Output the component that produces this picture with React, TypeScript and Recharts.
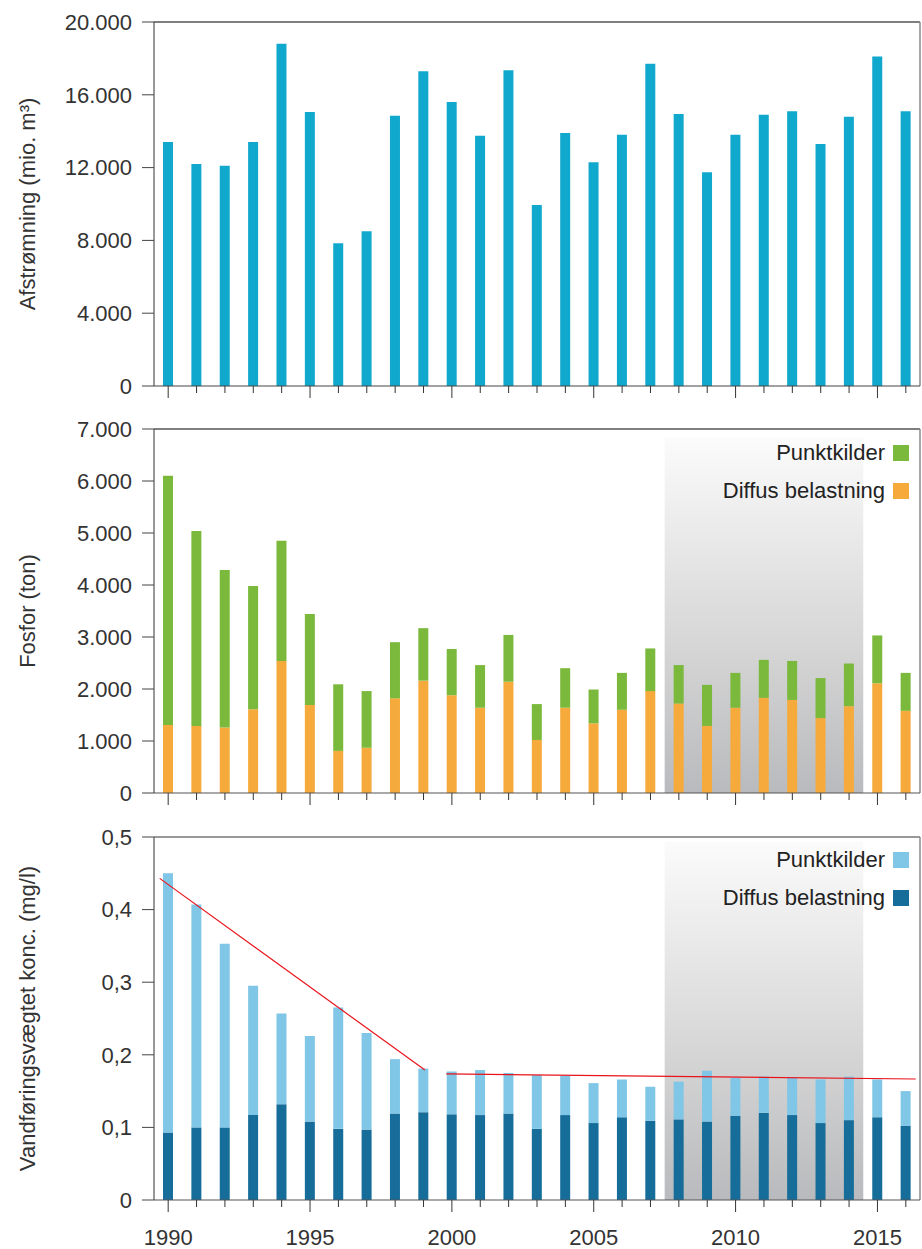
import React from 'react';
import { BarChart, Bar, XAxis, YAxis, ReferenceArea, ReferenceLine, Legend } from 'recharts';

const years = [1990, 1991, 1992, 1993, 1994, 1995, 1996, 1997, 1998, 1999, 2000, 2001, 2002, 2003, 2004, 2005, 2006, 2007, 2008, 2009, 2010, 2011, 2012, 2013, 2014, 2015, 2016];

const afstromning = [13400, 12200, 12100, 13400, 18800, 15050, 7850, 8500, 14850, 17300, 15600, 13750, 17350, 9950, 13900, 12300, 13800, 17700, 14950, 11750, 13800, 14900, 15100, 13300, 14800, 18100, 15100];

const fosforDiffus = [1310, 1290, 1260, 1610, 2540, 1690, 810, 870, 1820, 2160, 1880, 1640, 2140, 1020, 1640, 1340, 1600, 1960, 1720, 1290, 1640, 1830, 1790, 1440, 1670, 2110, 1580];
const fosforPunkt = [4790, 3750, 3030, 2370, 2310, 1750, 1280, 1090, 1080, 1010, 890, 820, 900, 690, 760, 650, 710, 820, 740, 790, 670, 730, 750, 770, 820, 920, 730];

const koncDiffus = [0.093, 0.1, 0.1, 0.117, 0.132, 0.108, 0.098, 0.097, 0.119, 0.121, 0.118, 0.117, 0.119, 0.098, 0.117, 0.106, 0.114, 0.109, 0.111, 0.108, 0.116, 0.12, 0.117, 0.106, 0.11, 0.114, 0.102];
const koncPunkt = [0.357, 0.307, 0.253, 0.178, 0.125, 0.118, 0.167, 0.133, 0.075, 0.06, 0.059, 0.062, 0.056, 0.074, 0.054, 0.055, 0.052, 0.047, 0.052, 0.07, 0.052, 0.05, 0.051, 0.06, 0.06, 0.052, 0.048];

const afstromningTicks = [0, 4000, 8000, 12000, 16000, 20000];
const fosforTicks = [0, 1000, 2000, 3000, 4000, 5000, 6000, 7000];
const koncTicks = [0, 0.1, 0.2, 0.3, 0.4, 0.5];

const shadeYears = [2007.5, 2014.5];
const trendA = [{ year: 1989.7, value: 0.443 }, { year: 1999.05, value: 0.179 }];
const trendB = [{ year: 1999.8, value: 0.1736 }, { year: 2016.35, value: 0.1667 }];

const legendLabels = { punkt: 'Punktkilder', diffus: 'Diffus belastning' };

const topData = years.map((y, i) => ({ year: y, afstromning: afstromning[i] }));
const fosforData = years.map((y, i) => ({ year: y, diffus: fosforDiffus[i], punkt: fosforPunkt[i] }));
const koncData = years.map((y, i) => ({ year: y, diffus: koncDiffus[i], punkt: koncPunkt[i] }));

const FONT = '"Liberation Sans", Arial, sans-serif';
const TXT = '#333';
const X_DOMAIN: [number, number] = [1989.5, 2016.5];

const fmtThousands = (v: number) => String(v).replace(/\B(?=(\d{3})+(?!\d))/g, '.');
const fmtDecimal = (v: number) => (v === 0 ? '0' : v.toFixed(1).replace('.', ','));

const makeXTick = (showLabel: boolean) => (props: any) => {
  const { x, y, payload } = props;
  const major = payload.value % 5 === 0;
  return (
    <g>
      <line x1={x} x2={x} y1={y} y2={y + (major ? 12 : 7)} stroke="#333" strokeWidth={1} />
      {showLabel && major && (
        <text x={x} y={y + 45} textAnchor="middle" fontSize={22} fill={TXT} fontFamily={FONT}>
          {payload.value}
        </text>
      )}
    </g>
  );
};

const makeYTitle = (content: React.ReactNode) => (props: any) => {
  const vb = props.viewBox || { y: 0, height: 0 };
  const cy = vb.y + vb.height / 2;
  const cx = 27;
  return (
    <text
      x={cx}
      y={cy}
      transform={`rotate(-90, ${cx}, ${cy})`}
      textAnchor="middle"
      dominantBaseline="central"
      fontSize={22}
      fill={TXT}
      fontFamily={FONT}
    >
      {content}
    </text>
  );
};

const makeLegend = (colors: { punkt: string; diffus: string }) => () => {
  const items = [
    { label: legendLabels.punkt, color: colors.punkt },
    { label: legendLabels.diffus, color: colors.diffus },
  ];
  return (
    <div style={{ fontFamily: FONT }}>
      {items.map((it) => (
        <div
          key={it.label}
          style={{ display: 'flex', alignItems: 'center', justifyContent: 'flex-end', height: 38 }}
        >
          <span style={{ fontSize: 22, color: '#222', marginRight: 8, lineHeight: '22px' }}>{it.label}</span>
          <span style={{ display: 'inline-block', width: 16, height: 16, background: it.color }} />
        </div>
      ))}
    </div>
  );
};

const ShadeDefs = ({ id }: { id: string }) => (
  <defs>
    <linearGradient id={id} x1="0" y1="0" x2="0" y2="1">
      <stop offset="0%" stopColor="#fbfbfb" />
      <stop offset="55%" stopColor="#d8d8d8" />
      <stop offset="100%" stopColor="#b9babd" />
    </linearGradient>
  </defs>
);

const yTickStyle = { fontSize: 22, fill: TXT, fontFamily: FONT };

export default function App() {
  return (
    <div style={{ position: 'absolute', left: 0, top: 0, width: 922, height: 1249, background: '#fff', fontFamily: FONT }}>
      {/* Panel 1 */}
      <div style={{ position: 'absolute', left: 0, top: 0 }}>
        <BarChart width={922} height={400} data={topData} margin={{ top: 22, right: 2, bottom: 0, left: 0 }}>
          <XAxis
            dataKey="year"
            type="number"
            domain={X_DOMAIN}
            ticks={years}
            interval={0}
            height={14}
            tickLine={false}
            tickSize={0}
            tickMargin={0}
            axisLine={{ stroke: '#444' }}
            tick={makeXTick(false)}
          />
          <YAxis
            width={154}
            domain={[0, 20000]}
            ticks={afstromningTicks}
            interval={0}
            tickSize={12}
            tickMargin={10}
            tickLine={{ stroke: '#444' }}
            axisLine={{ stroke: '#333' }}
            tick={yTickStyle}
            tickFormatter={fmtThousands}
            label={makeYTitle(<>Afstrømning (mio. m³)</>)}
          />
          <ReferenceLine y={20000} stroke="#555" strokeWidth={1.5} />
          <ReferenceLine x={2016.5} stroke="#888" strokeWidth={1.5} />
          <Bar dataKey="afstromning" fill="#10a8cc" barSize={10} isAnimationActive={false} />
        </BarChart>
      </div>

      {/* Panel 2 */}
      <div style={{ position: 'absolute', left: 0, top: 400 }}>
        <BarChart width={922} height={410} data={fosforData} margin={{ top: 29, right: 2, bottom: 0, left: 0 }}>
          <ShadeDefs id="shadeFosfor" />
          <XAxis
            dataKey="year"
            type="number"
            domain={X_DOMAIN}
            ticks={years}
            interval={0}
            height={17}
            tickLine={false}
            tickSize={0}
            tickMargin={0}
            axisLine={{ stroke: '#555' }}
            tick={makeXTick(false)}
          />
          <YAxis
            width={154}
            domain={[0, 7000]}
            ticks={fosforTicks}
            interval={0}
            tickSize={12}
            tickMargin={10}
            tickLine={{ stroke: '#444' }}
            axisLine={{ stroke: '#333' }}
            tick={yTickStyle}
            tickFormatter={fmtThousands}
            label={makeYTitle('Fosfor (ton)')}
          />
          <ReferenceArea
            x1={shadeYears[0]}
            x2={shadeYears[1]}
            y1={0}
            y2={6830}
            fill="url(#shadeFosfor)"
            fillOpacity={1}
            stroke="none"
          />
          <ReferenceLine y={7000} stroke="#555" strokeWidth={1.5} />
          <ReferenceLine x={2016.5} stroke="#888" strokeWidth={1.5} />
          <Bar dataKey="diffus" name={legendLabels.diffus} stackId="a" fill="#f5aa3b" barSize={10} isAnimationActive={false} />
          <Bar dataKey="punkt" name={legendLabels.punkt} stackId="a" fill="#7ab93b" barSize={10} isAnimationActive={false} />
          <Legend
            layout="horizontal"
            verticalAlign="middle"
            align="center"
            wrapperStyle={{ top: 34, right: 13, left: 'auto', width: 'auto' }}
            content={makeLegend({ punkt: '#7ab93b', diffus: '#f5aa3b' })}
          />
        </BarChart>
      </div>

      {/* Panel 3 */}
      <div style={{ position: 'absolute', left: 0, top: 810 }}>
        <BarChart width={922} height={439} data={koncData} margin={{ top: 27, right: 2, bottom: 0, left: 0 }}>
          <ShadeDefs id="shadeKonc" />
          <XAxis
            dataKey="year"
            type="number"
            domain={X_DOMAIN}
            ticks={years}
            interval={0}
            height={49}
            tickLine={false}
            tickSize={0}
            tickMargin={0}
            axisLine={{ stroke: '#555' }}
            tick={makeXTick(true)}
          />
          <YAxis
            width={154}
            domain={[0, 0.5]}
            ticks={koncTicks}
            interval={0}
            tickSize={12}
            tickMargin={10}
            tickLine={{ stroke: '#444' }}
            axisLine={{ stroke: '#333' }}
            tick={yTickStyle}
            tickFormatter={fmtDecimal}
            label={makeYTitle('Vandføringsvægtet konc. (mg/l)')}
          />
          <ReferenceArea
            x1={shadeYears[0]}
            x2={shadeYears[1]}
            y1={0}
            y2={0.493}
            fill="url(#shadeKonc)"
            fillOpacity={1}
            stroke="none"
          />
          <ReferenceLine y={0.5} stroke="#777" strokeWidth={1.5} />
          <ReferenceLine x={2016.5} stroke="#888" strokeWidth={1.5} />
          <Bar dataKey="diffus" name={legendLabels.diffus} stackId="a" fill="#166d9a" barSize={10} isAnimationActive={false} />
          <Bar dataKey="punkt" name={legendLabels.punkt} stackId="a" fill="#80c6e6" barSize={10} isAnimationActive={false} />
          <ReferenceLine
            segment={[{ x: trendA[0].year, y: trendA[0].value }, { x: trendA[1].year, y: trendA[1].value }]}
            stroke="#e8131b"
            strokeWidth={1.2}
            ifOverflow="visible"
          />
          <ReferenceLine
            segment={[{ x: trendB[0].year, y: trendB[0].value }, { x: trendB[1].year, y: trendB[1].value }]}
            stroke="#e8131b"
            strokeWidth={1.2}
            ifOverflow="visible"
          />
          <Legend
            layout="horizontal"
            verticalAlign="middle"
            align="center"
            wrapperStyle={{ top: 31, right: 13, left: 'auto', width: 'auto' }}
            content={makeLegend({ punkt: '#80c6e6', diffus: '#166d9a' })}
          />
        </BarChart>
      </div>
    </div>
  );
}
